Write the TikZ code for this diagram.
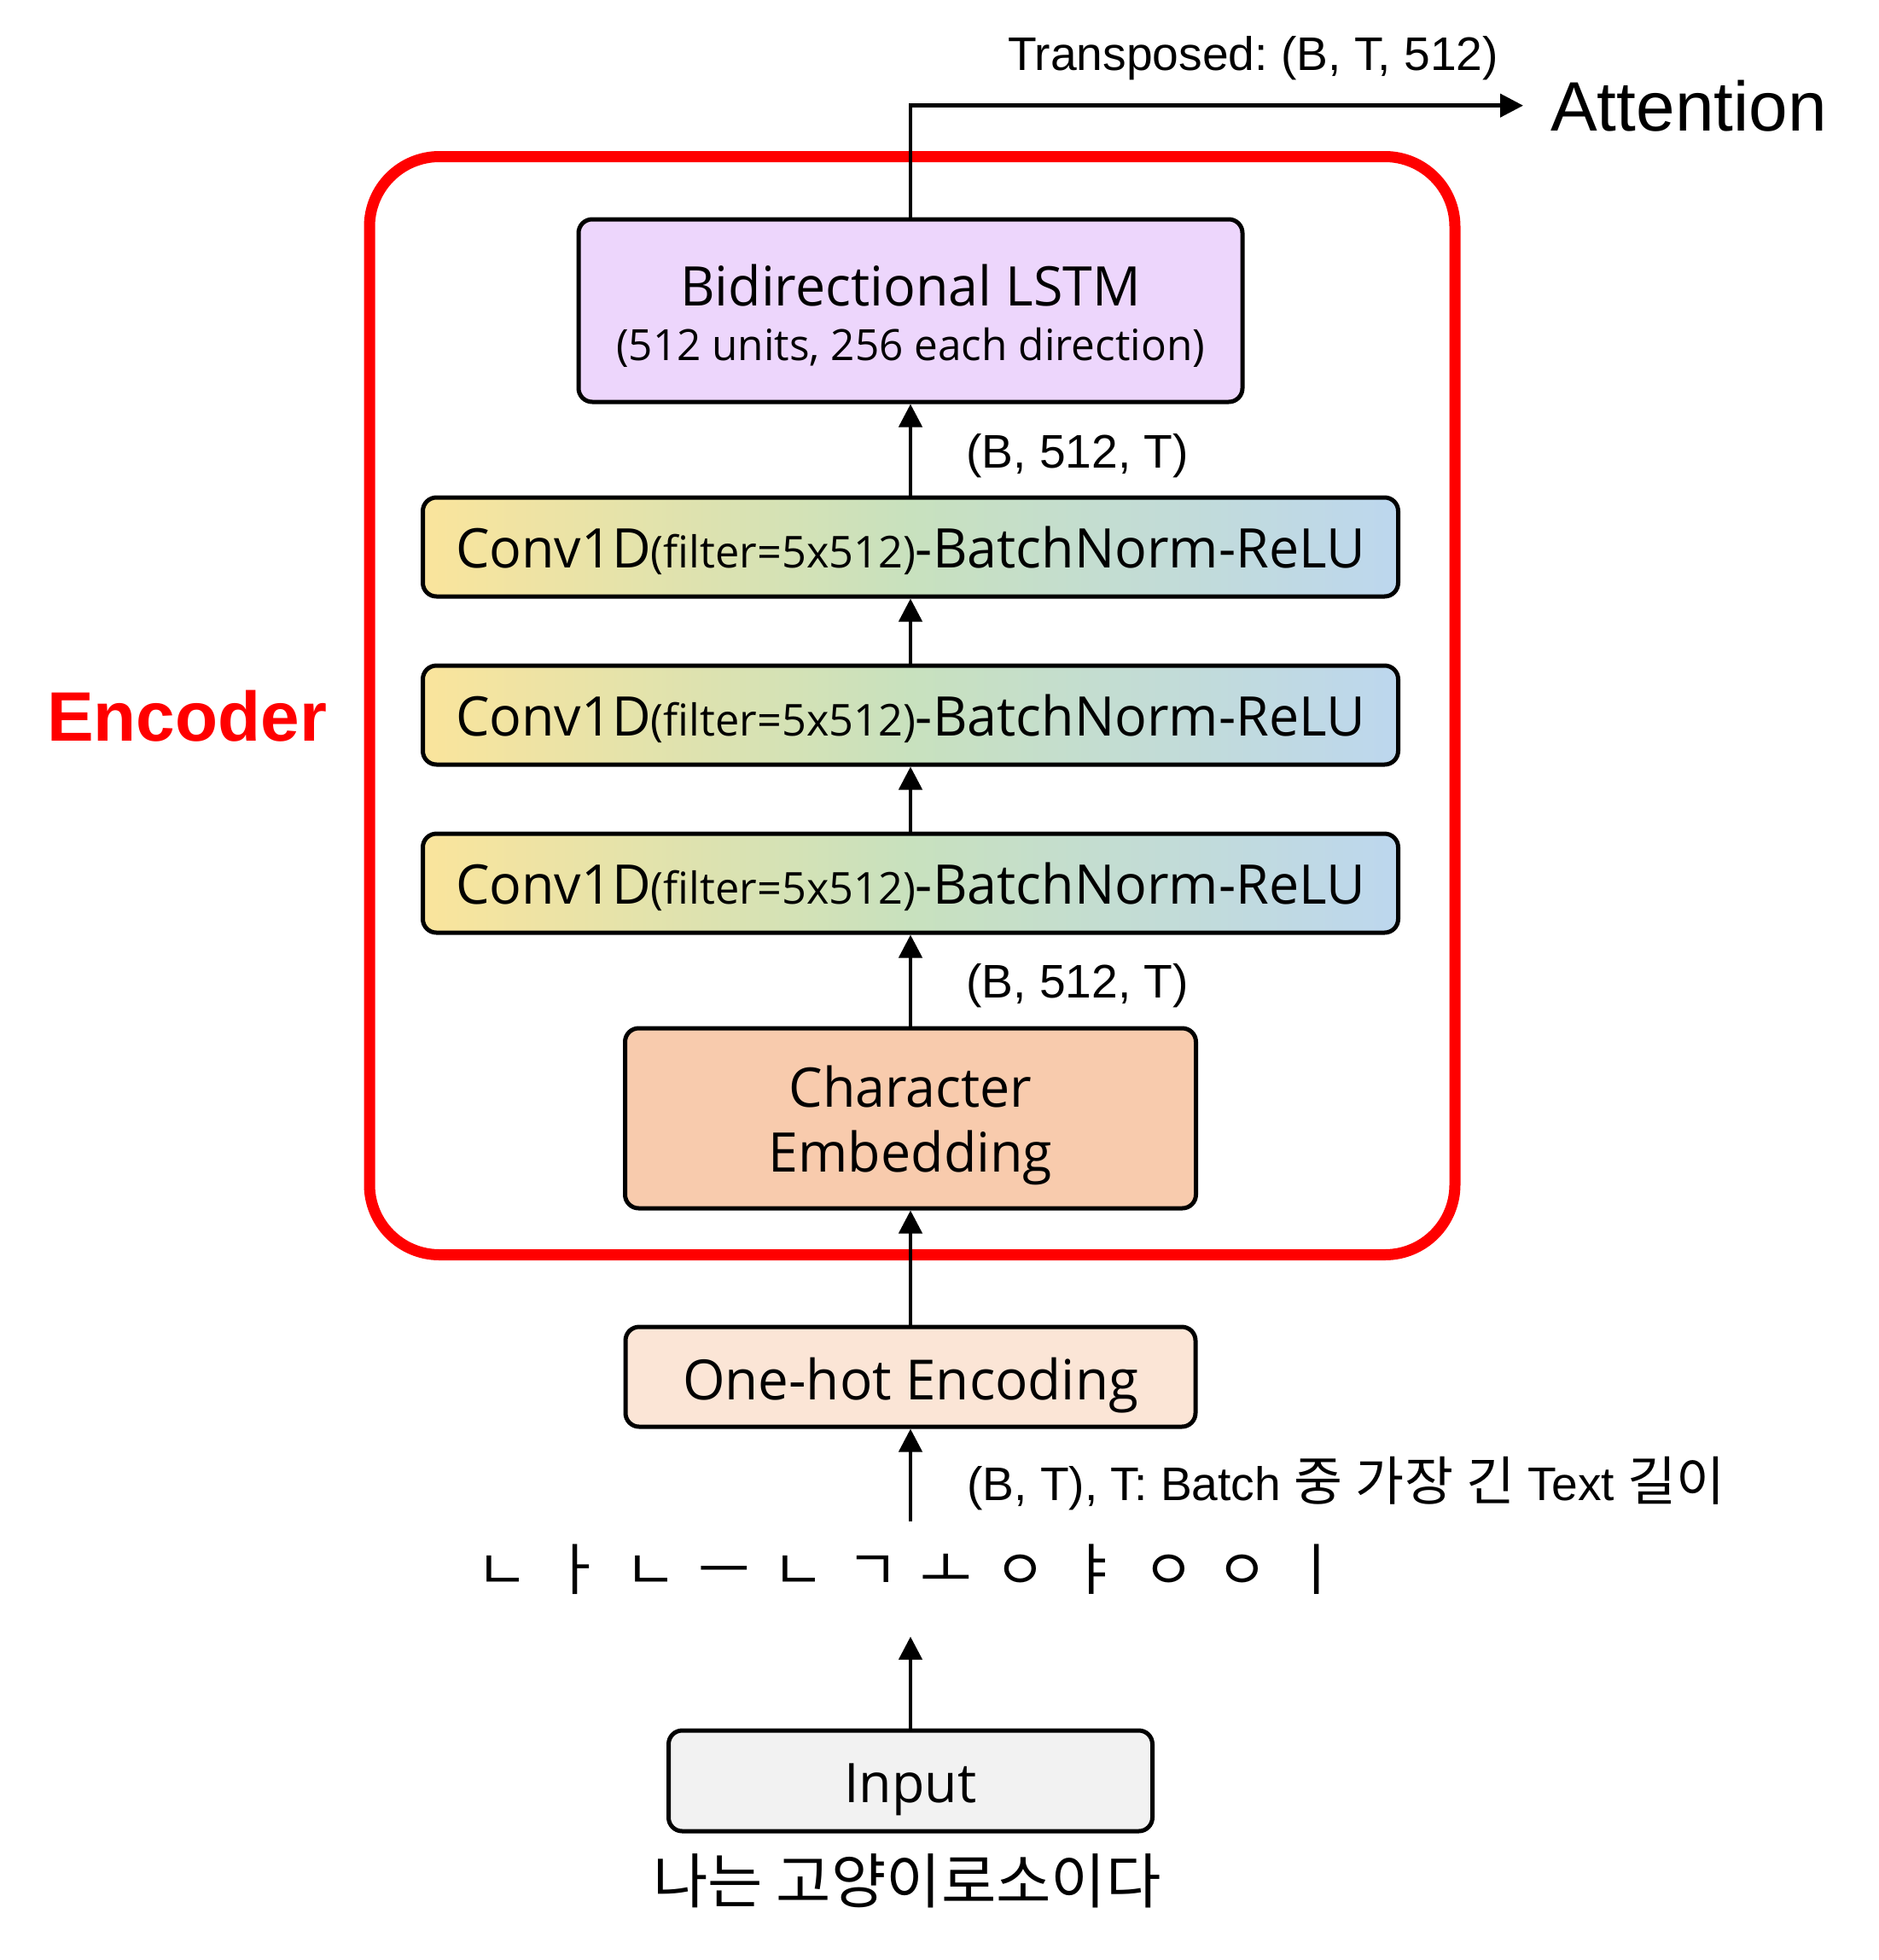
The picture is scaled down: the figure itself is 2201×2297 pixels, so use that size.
\documentclass[tikz,border=0pt]{standalone}
\usepackage{fontspec}
\setmainfont{Liberation Sans}
\newfontfamily\boxfont[FakeStretch=0.98]{Open Sans}
\newfontfamily\krfont{Noto Sans CJK KR}
\usetikzlibrary{arrows.meta}
\definecolor{encred}{RGB}{255,0,0}
\definecolor{lstmfill}{RGB}{237,214,252}
\definecolor{convY}{RGB}{250,228,156}
\definecolor{convG}{RGB}{200,225,190}
\definecolor{convB}{RGB}{189,215,238}
\definecolor{charfill}{RGB}{248,203,173}
\definecolor{onehotfill}{RGB}{251,229,214}
\definecolor{inputfill}{RGB}{242,242,242}
\begin{document}
\frenchspacing
\begin{tikzpicture}[x=1pt,y=-1pt,
  blk/.style={draw=black, line width=5pt, rounded corners=16pt, inner sep=0pt, align=center, text=black},
  convbox/.style={blk, left color=convY, right color=convB, middle color=convG, minimum width=1143pt, minimum height=116pt, text height=60pt, text depth=12pt, font=\boxfont\fontsize{64}{64}\selectfont},
  arr/.style={line width=4.5pt, -{Triangle[length=27pt,width=27pt]}},
  lbl/.style={anchor=base west, inner sep=0pt, font=\fontsize{55.2}{60}\selectfont},
  krlbl/.style={font=\krfont\fontsize{62}{64}\selectfont}]

\fill[white] (0,0) rectangle (2201,2297);
\useasboundingbox (0,0) rectangle (2201,2297);

% encoder frame
\node[draw=encred, line width=13pt, rounded corners=82pt, minimum width=1272pt, minimum height=1287pt, inner sep=0pt] (enc) at (1069,827) {};
\node[anchor=base west, inner sep=0pt, text=encred, font=\bfseries\fontsize{82}{90}\selectfont] (enclbl) at (55,868) {Encoder};

% blocks
\node[blk, fill=lstmfill, minimum width=778pt, minimum height=214pt, font=\boxfont\fontsize{64}{64}\selectfont] (lstm) at (1067,364)
  {\rule{0pt}{66pt}Bidirectional LSTM\\{\fontsize{50.5}{64}\selectfont\rule[-14pt]{0pt}{14pt}(512 units, 256 each direction)}};
\node[convbox] (conv1) at (1067,641) {Conv1D{\fontsize{51.5}{64}\selectfont(filter=5x512)}-BatchNorm-ReLU};
\node[convbox] (conv2) at (1067,838) {Conv1D{\fontsize{51.5}{64}\selectfont(filter=5x512)}-BatchNorm-ReLU};
\node[convbox] (conv3) at (1067,1035) {Conv1D{\fontsize{51.5}{64}\selectfont(filter=5x512)}-BatchNorm-ReLU};
\node[blk, fill=charfill, minimum width=669pt, minimum height=211pt, font=\boxfont\fontsize{64}{76}\selectfont] (char) at (1067,1310.5)
  {\rule{0pt}{65pt}Character\\\rule[-16pt]{0pt}{16pt}Embedding};
\node[blk, fill=onehotfill, minimum width=668pt, minimum height=117pt, text height=65pt, text depth=12pt, font=\boxfont\fontsize{65}{65}\selectfont] (onehot) at (1067,1613.5) {One-hot Encoding};
\node[blk, fill=inputfill, minimum width=567pt, minimum height=118pt, text height=62pt, text depth=12pt, font=\boxfont\fontsize{64}{64}\selectfont] (input) at (1067,2087) {Input};

% texts
\node[anchor=base, inner sep=0pt, font=\krfont\fontsize{66}{70}\selectfont] (jamo) at (1066,1863)
  {\makebox[86.7pt]{ㄴ}\makebox[86.7pt]{ㅏ}\makebox[86.7pt]{ㄴ}\makebox[86.7pt]{ㅡ}\makebox[86.7pt]{ㄴ}\makebox[86.7pt]{ㄱ}\makebox[86.7pt]{ㅗ}\makebox[86.7pt]{ㅇ}\makebox[86.7pt]{ㅑ}\makebox[86.7pt]{ㅇ}\makebox[86.7pt]{ㅇ}\makebox[86.7pt]{ㅣ}};
\node[anchor=base, inner sep=0pt, font=\krfont\fontsize{70}{74}\selectfont] (sent) at (1063,2230) {나는 고양이로소이다};
\node[anchor=base west, inner sep=0pt, font=\fontsize{82}{90}\selectfont] (att) at (1817,153) {Attention};
\node[lbl] (ltr) at (1181,82) {Transposed: (B, T, 512)};
\node[lbl] (l1) at (1132,548) {(B, 512, T)};
\node[lbl] (l2) at (1132,1169) {(B, 512, T)};
\node[lbl] (l3) at (1133,1758) {(B, T), T: Batch {\krfont\fontsize{62}{64}\selectfont 중} {\krfont\fontsize{62}{64}\selectfont 가장} {\krfont\fontsize{62}{64}\selectfont 긴} Text {\krfont\fontsize{62}{64}\selectfont 길이}};

\coordinate (j1) at (1067,1918);
\coordinate (j2) at (1067,1783);

% connectors
\draw[arr] (input.north) -- (j1);
\draw[arr] (j2) -- (onehot.south);
\draw[arr] (onehot.north) -- (char.south);
\draw[arr] (char.north) -- (conv3.south);
\draw[arr] (conv3.north) -- (conv2.south);
\draw[arr] (conv2.north) -- (conv1.south);
\draw[arr] (conv1.north) -- (lstm.south);
\draw[arr, shorten >=32pt] (lstm.north) |- (att.west);
\end{tikzpicture}
\end{document}
